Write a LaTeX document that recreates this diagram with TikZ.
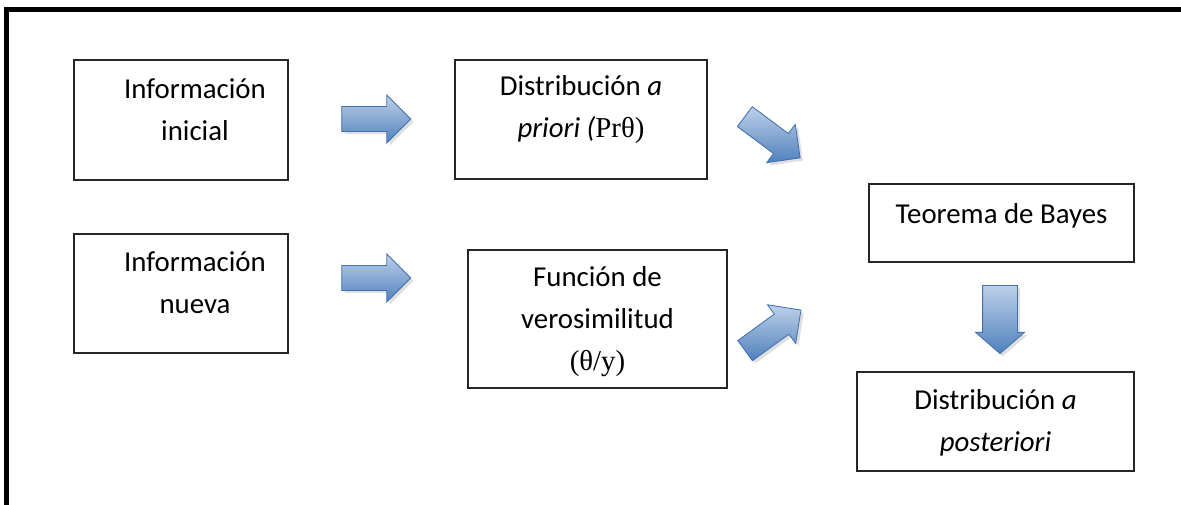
\documentclass[tikz,border=0pt]{standalone}
\usepackage{fontspec}
\setmainfont{Carlito}
\newfontfamily\tms{Liberation Serif}
\usetikzlibrary{shapes.arrows,shadows}

\definecolor{azuloscuro}{RGB}{79,129,189}
\definecolor{azulclaro}{RGB}{190,208,232}
\definecolor{azulborde}{RGB}{65,113,178}

\begin{document}
\begin{tikzpicture}[x=0.025cm,y=-0.025cm]
\tikzstyle{block} = [rectangle, draw=black!85, line width=0.8pt, inner sep=0pt,
align=center, font=\fontsize{20.5}{29.8}\selectfont, text depth=0pt]
\tikzstyle{flecha} = [single arrow, draw=azulborde, line width=0.6pt,
top color=azulclaro, bottom color=azuloscuro, inner xsep=0pt, inner ysep=0.3cm,
minimum height=1.725cm, minimum width=1.175cm,
single arrow head extend=0.2875cm, single arrow tip angle=90,
drop shadow={shadow xshift=0.07cm, shadow yshift=-0.07cm, fill=black!25}]
\useasboundingbox (0,0) rectangle (1181,505);
% marco
\draw [line width=0.125cm] (1181,10) -- (6.5,10) -- (6.5,505);
% cajas
\node [block, minimum width=5.35cm, minimum height=3cm, text height=1cm] (ini) at (181,120)
{\hspace*{0.7cm}Información\\ \hspace*{0.7cm}inicial};
\node [block, minimum width=6.3cm, minimum height=2.975cm, text height=0.9cm] (pri) at (581,119.5)
{Distribución \textit{a}\\ \textit{priori (}{\tms Prθ)}};
\node [block, minimum width=5.35cm, minimum height=2.975cm, text height=0.975cm] (nue) at (181,293.5)
{\hspace*{0.7cm}Información\\ \hspace*{0.7cm}nueva};
\node [block, minimum width=6.475cm, minimum height=3.45cm, text height=2.55cm] (ver) at (597.5,319)
{Función de\\ verosimilitud\\ {\tms (θ/y)}};
\node [block, minimum width=6.625cm, minimum height=1.95cm, text height=0pt] (bay) at (1001.5,223)
{Teorema de Bayes};
\node [block, minimum width=6.925cm, minimum height=2.475cm, text height=1.475cm] (pos) at (995.5,421.5)
{Distribución \textit{a}\\ \textit{posteriori}};
% flechas
\node [flecha] (f1) at (370,119) {};
\node [flecha] (f2) at (370,278) {};
\node [flecha, rotate=-36.7] (f3) at (767.5,133.5) {};
\node [flecha, rotate=36] (f4) at (768,334) {};
\node [flecha, rotate=-90, inner ysep=0.425cm, minimum height=1.7cm, minimum width=1.2cm,
single arrow head extend=0.175cm, single arrow tip angle=98] (f5) at (1000,312) {};
\end{tikzpicture}
\end{document}
